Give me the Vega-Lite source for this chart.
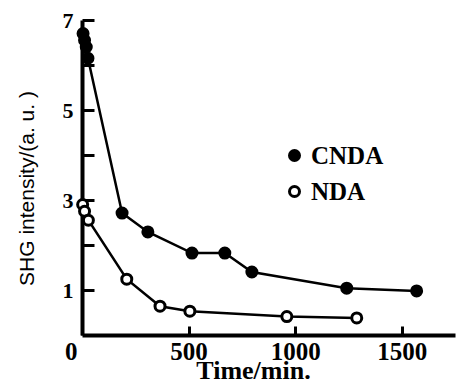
{
  "$schema": "https://vega.github.io/schema/vega-lite/v6.json",
  "width": 373,
  "height": 315,
  "autosize": "none",
  "padding": {"left": 82, "top": 20, "right": 2, "bottom": 48},
  "background": "white",
  "config": {
    "view": {"stroke": null}
  },
  "data": {
    "values": [
      {"series": "CNDA", "time": 5, "shg": 6.7},
      {"series": "CNDA", "time": 12, "shg": 6.55},
      {"series": "CNDA", "time": 20, "shg": 6.4},
      {"series": "CNDA", "time": 28, "shg": 6.15},
      {"series": "CNDA", "time": 188, "shg": 2.71},
      {"series": "CNDA", "time": 309, "shg": 2.29},
      {"series": "CNDA", "time": 516, "shg": 1.82},
      {"series": "CNDA", "time": 670, "shg": 1.82},
      {"series": "CNDA", "time": 797, "shg": 1.4},
      {"series": "CNDA", "time": 1242, "shg": 1.04},
      {"series": "CNDA", "time": 1570, "shg": 0.98},
      {"series": "NDA", "time": 3, "shg": 2.9},
      {"series": "NDA", "time": 12, "shg": 2.75},
      {"series": "NDA", "time": 30, "shg": 2.55},
      {"series": "NDA", "time": 210, "shg": 1.24},
      {"series": "NDA", "time": 366, "shg": 0.64},
      {"series": "NDA", "time": 506, "shg": 0.53},
      {"series": "NDA", "time": 961, "shg": 0.41},
      {"series": "NDA", "time": 1289, "shg": 0.38}
    ]
  },
  "encoding": {
    "x": {
      "field": "time",
      "type": "quantitative",
      "scale": {"domain": [0, 1750], "nice": false},
      "axis": {
        "values": [0, 500, 1000, 1500],
        "format": "d",
        "grid": false,
        "domainColor": "black",
        "domainWidth": 4,
        "tickColor": "black",
        "tickWidth": 3,
        "tickSize": -9,
        "labelPadding": 13,
        "labelFont": "Liberation Serif",
        "labelFontWeight": "bold",
        "labelColor": "black",
        "labelFontSize": 25,
        "labelAlign": {"condition": {"test": "datum.value == 0", "value": "right"}, "value": "center"},
        "labelOffset": {"condition": {"test": "datum.value == 0", "value": -5}, "value": 0},
        "title": "Time/min.",
        "titleColor": "black",
        "titleFont": "Liberation Serif",
        "titleFontWeight": "bold",
        "titleFontSize": 26,
        "titleX": 171,
        "titleY": 35,
        "titleBaseline": "middle"
      }
    },
    "y": {
      "field": "shg",
      "type": "quantitative",
      "scale": {"domain": [0, 7], "nice": false},
      "axis": {
        "values": [1, 2, 3, 4, 5, 6, 7],
        "grid": false,
        "domainColor": "black",
        "domainWidth": 4,
        "tickColor": "black",
        "tickWidth": 3,
        "tickSize": -12,
        "labelPadding": 21,
        "labelFont": "Liberation Serif",
        "labelFontWeight": "bold",
        "labelColor": "black",
        "labelFontSize": 22,
        "labelExpr": "datum.value % 2 == 1 ? datum.label : ''",
        "title": "SHG intensity/(a. u. )",
        "titleColor": "black",
        "titleFont": "Liberation Sans",
        "titleFontWeight": "normal",
        "titleFontSize": 21,
        "titleAngle": -90,
        "titleX": -55,
        "titleY": 168,
        "titleAlign": "center",
        "titleBaseline": "middle"
      }
    }
  },
  "layer": [
    {
      "mark": {"type": "line", "color": "black", "strokeWidth": 2.5},
      "encoding": {"detail": {"field": "series"}}
    },
    {
      "mark": {"type": "point", "shape": "circle", "size": 100, "stroke": "black", "strokeWidth": 3, "opacity": 1},
      "encoding": {
        "fill": {
          "field": "series",
          "type": "nominal",
          "scale": {"domain": ["CNDA", "NDA"], "range": ["black", "white"]},
          "legend": {
            "title": null,
            "orient": "none",
            "legendX": 200,
            "legendY": 123,
            "symbolType": "circle",
            "symbolSize": 100,
            "symbolStrokeColor": "black",
            "symbolStrokeWidth": 3,
            "labelFont": "Liberation Serif",
            "labelFontWeight": "bold",
            "labelFontSize": 25,
            "labelColor": "black",
            "rowPadding": 10,
            "labelOffset": 4
          }
        }
      }
    }
  ]
}
